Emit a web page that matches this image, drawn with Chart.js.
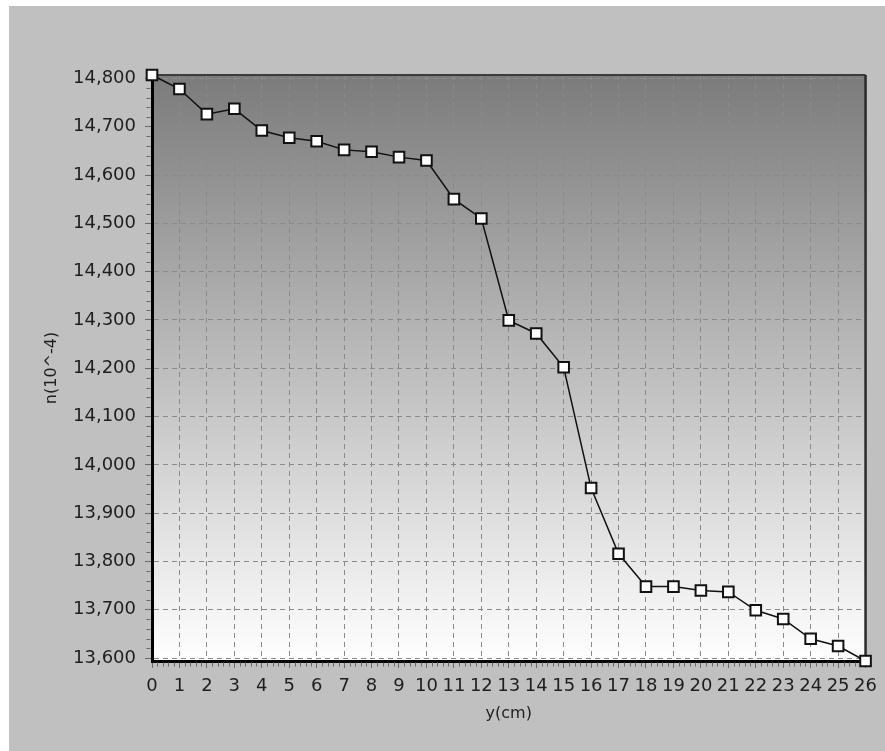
<!DOCTYPE html>
<html>
<head>
<meta charset="utf-8">
<script src="https://cdn.jsdelivr.net/npm/chart.js@4/dist/chart.umd.min.js"></script>
<style>
  html, body { margin: 0; padding: 0; background: #ffffff; width: 885px; height: 751px; overflow: hidden; }
  #panel { position: absolute; left: 9px; top: 6px; width: 876px; height: 745px; background: #c0c0c0; }
  #c { display: block; }
</style>
</head>
<body>
<div id="panel"><canvas id="c" width="876" height="745"></canvas></div>
<script>
// ---- data ----
const yPositions = [0, 1, 2, 3, 4, 5, 6, 7, 8, 9, 10, 11, 12, 13, 14, 15, 16, 17, 18, 19, 20, 21, 22, 23, 24, 25, 26];
const nValues = [14807, 14778, 14726, 14737, 14692, 14677, 14670, 14652, 14648, 14637, 14630,
                 14550, 14510, 14299, 14272, 14202, 13952, 13816, 13748, 13748, 13740, 13737,
                 13699, 13681, 13640, 13625, 13594];
const xTickLabels = ['0','1','2','3','4','5','6','7','8','9','10','11','12','13','14','15','16','17','18','19','20','21','22','23','24','25','26'];
const yTickValues = [13600, 13700, 13800, 13900, 14000, 14100, 14200, 14300, 14400, 14500, 14600, 14700, 14800];
const yTickLabels = ['13,600','13,700','13,800','13,900','14,000','14,100','14,200','14,300','14,400','14,500','14,600','14,700','14,800'];
const xTitle = 'y(cm)';
const yTitle = 'n(10^-4)';

const FONT = 'DejaVu Sans, Arial, sans-serif';
const TXT = '#1e1e1e';

const plotDecor = {
  id: 'plotDecor',
  beforeDraw(chart) {
    const { ctx, chartArea: a } = chart;
    const g = ctx.createLinearGradient(0, a.top, 0, a.bottom);
    g.addColorStop(0, '#7b7b7b');
    g.addColorStop(1, '#ffffff');
    ctx.save();
    ctx.fillStyle = g;
    ctx.fillRect(a.left, a.top, a.right - a.left, a.bottom - a.top);
    ctx.restore();
  },
  beforeDatasetsDraw(chart) {
    const { ctx, chartArea: a, scales } = chart;
    ctx.save();
    // top & right frame
    ctx.strokeStyle = '#3c3c3c';
    ctx.lineWidth = 2;
    ctx.beginPath();
    ctx.moveTo(a.left, a.top);
    ctx.lineTo(a.right, a.top);
    ctx.stroke();
    ctx.strokeStyle = '#2a2a2a';
    ctx.lineWidth = 2.5;
    ctx.beginPath();
    ctx.moveTo(a.right, a.top);
    ctx.lineTo(a.right, a.bottom + 1.5);
    ctx.stroke();
    // minor ticks
    ctx.strokeStyle = '#6a6a6a';
    ctx.lineWidth = 1;
    const xs = scales.x, ys = scales.y;
    ctx.beginPath();
    for (let i = 0; i < xTickLabels.length - 1; i++) {
      for (let k = 1; k < 5; k++) {
        const px = Math.round(xs.getPixelForValue(yPositions[i] + k * 0.2)) + 0.5;
        ctx.moveTo(px, a.bottom + 1.5);
        ctx.lineTo(px, a.bottom + 5.5);
      }
    }
    for (let i = 0; i < yTickValues.length; i++) {
      for (let k = 1; k < 5; k++) {
        const v = yTickValues[i] + k * 20;
        if (v > ys.max) continue;
        const py = Math.round(ys.getPixelForValue(v)) + 0.5;
        ctx.moveTo(a.left - 1.5, py);
        ctx.lineTo(a.left - 5.5, py);
      }
      const v2 = yTickValues[0] - 0;
    }
    ctx.stroke();
    ctx.restore();
  }
};

const points = yPositions.map((x, i) => ({ x: x, y: nValues[i] }));

new Chart(document.getElementById('c'), {
  type: 'line',
  data: {
    datasets: [{
      data: points,
      borderColor: '#111111',
      borderWidth: 1.5,
      tension: 0,
      pointStyle: 'rect',
      pointRadius: 7.5,
      pointHoverRadius: 7.5,
      pointBackgroundColor: '#ffffff',
      pointBorderColor: '#111111',
      pointBorderWidth: 2,
      clip: false
    }]
  },
  options: {
    responsive: false,
    animation: false,
    events: [],
    layout: { padding: { top: 69, right: 16, bottom: 0, left: 0 } },
    plugins: { legend: { display: false }, tooltip: { enabled: false } },
    scales: {
      x: {
        type: 'linear',
        min: 0,
        max: 26,
        afterFit(s) { s.height = 90; },
        afterBuildTicks(s) { s.ticks = yPositions.map(v => ({ value: v })); },
        ticks: {
          autoSkip: false,
          maxRotation: 0,
          minRotation: 0,
          padding: 8,
          color: TXT,
          font: { family: FONT, size: 18 },
          callback: (v, i) => xTickLabels[i]
        },
        grid: {
          color: '#8a8a8a',
          lineWidth: 1,
          drawTicks: true,
          tickLength: 7,
          tickColor: '#6a6a6a',
          tickWidth: 1,
          tickBorderDash: []
        },
        border: { display: true, color: '#000000', width: 3, dash: [5, 4] },
        title: {
          display: true,
          text: xTitle,
          color: TXT,
          font: { family: FONT, size: 16 },
          padding: { top: 0, bottom: 28 }
        }
      },
      y: {
        type: 'linear',
        min: Math.min(...nValues),
        max: Math.max(...nValues),
        afterFit(s) { s.width = 143; },
        afterBuildTicks(s) { s.ticks = yTickValues.map(v => ({ value: v })); },
        ticks: {
          padding: 9,
          color: TXT,
          font: { family: FONT, size: 18 },
          callback: (v) => yTickLabels[yTickValues.indexOf(v)]
        },
        grid: {
          color: '#8a8a8a',
          lineWidth: 1,
          drawTicks: true,
          tickLength: 7,
          tickColor: '#6a6a6a',
          tickWidth: 1,
          tickBorderDash: []
        },
        border: { display: true, color: '#000000', width: 3, dash: [5, 4] },
        title: {
          display: true,
          text: yTitle,
          color: TXT,
          font: { family: FONT, size: 16 },
          padding: { top: 33, bottom: 0 }
        }
      }
    }
  },
  plugins: [plotDecor]
});
</script>
</body>
</html>
